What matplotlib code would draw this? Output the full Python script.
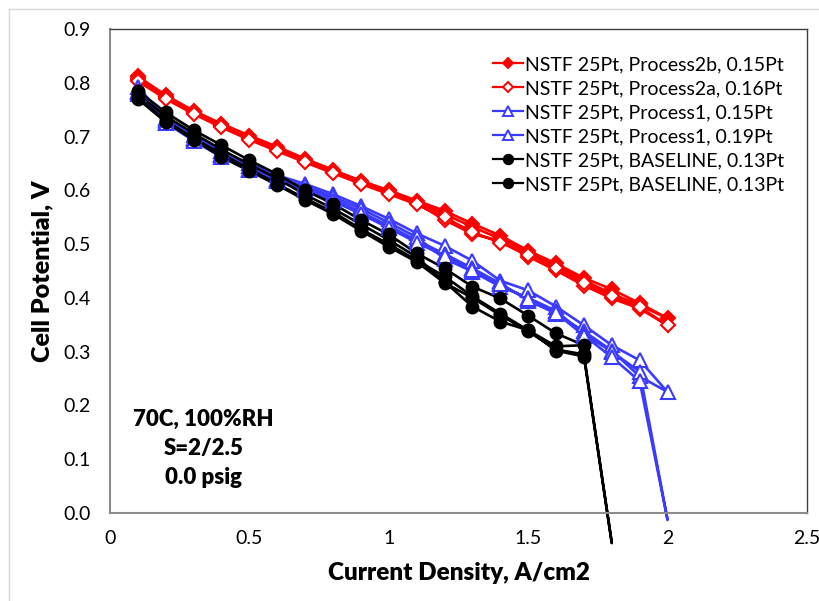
import matplotlib
matplotlib.use("Agg")
import matplotlib.pyplot as plt
from matplotlib.lines import Line2D

plt.rcParams['font.family'] = ['Lato', 'DejaVu Sans']

# ---------------- data ----------------
x_up20 = [0.1, 0.2, 0.3, 0.4, 0.5, 0.6, 0.7, 0.8, 0.9, 1.0,
          1.1, 1.2, 1.3, 1.4, 1.5, 1.6, 1.7, 1.8, 1.9, 2.0]
x_dn19 = [1.9, 1.8, 1.7, 1.6, 1.5, 1.4, 1.3, 1.2, 1.1, 1.0,
          0.9, 0.8, 0.7, 0.6, 0.5, 0.4, 0.3, 0.2, 0.1]
x_up18 = [0.1, 0.2, 0.3, 0.4, 0.5, 0.6, 0.7, 0.8, 0.9, 1.0,
          1.1, 1.2, 1.3, 1.4, 1.5, 1.6, 1.7, 1.8]
x_up17 = [0.1, 0.2, 0.3, 0.4, 0.5, 0.6, 0.7, 0.8, 0.9, 1.0,
          1.1, 1.2, 1.3, 1.4, 1.5, 1.6, 1.7]
x_dn17 = [1.7, 1.6, 1.5, 1.4, 1.3, 1.2, 1.1, 1.0,
          0.9, 0.8, 0.7, 0.6, 0.5, 0.4, 0.3, 0.2, 0.1]
x_dn16 = [1.6, 1.5, 1.4, 1.3, 1.2, 1.1, 1.0,
          0.9, 0.8, 0.7, 0.6, 0.5, 0.4, 0.3, 0.2, 0.1]

# Process2b, 0.15Pt
p2b_up = [0.812, 0.777, 0.748, 0.724, 0.702, 0.681, 0.659, 0.638, 0.618, 0.600,
          0.581, 0.562, 0.538, 0.516, 0.488, 0.464, 0.437, 0.416, 0.390, 0.362]
p2b_dn = [0.386, 0.408, 0.432, 0.460, 0.484, 0.510, 0.532, 0.556, 0.577, 0.596,
          0.615, 0.634, 0.655, 0.677, 0.698, 0.721, 0.746, 0.774, 0.809]
# Process2a, 0.16Pt
p2a_up = [0.806, 0.773, 0.745, 0.720, 0.697, 0.676, 0.655, 0.634, 0.614, 0.597,
          0.576, 0.545, 0.519, 0.506, 0.477, 0.451, 0.423, 0.399, 0.380, 0.349]
p2a_dn = [0.383, 0.404, 0.428, 0.455, 0.480, 0.503, 0.522, 0.550, 0.574, 0.593,
          0.612, 0.632, 0.652, 0.673, 0.694, 0.717, 0.742, 0.770, 0.803]
# Process1, 0.15Pt
p1a_up = [0.792, 0.735, 0.703, 0.673, 0.650, 0.628, 0.612, 0.593, 0.571, 0.547,
          0.520, 0.497, 0.469, 0.432, 0.414, 0.384, 0.349, 0.312, 0.284, 0.225]
p1a_dn = [0.254, 0.302, 0.338, 0.371, 0.395, 0.427, 0.455, 0.482, 0.507, 0.534,
          0.560, 0.584, 0.604, 0.620, 0.640, 0.665, 0.695, 0.728, 0.785]
# Process1, 0.19Pt
p1b_up = [0.782, 0.730, 0.698, 0.668, 0.645, 0.622, 0.608, 0.588, 0.566, 0.540,
          0.513, 0.473, 0.449, 0.421, 0.400, 0.376, 0.333, 0.300, 0.263, -0.013]
p1b_dn = [0.245, 0.290, 0.330, 0.372, 0.398, 0.425, 0.452, 0.478, 0.503, 0.530,
          0.556, 0.580, 0.600, 0.617, 0.638, 0.662, 0.692, 0.726, 0.780]
# BASELINE, 0.13Pt (1)
bla_up = [0.785, 0.745, 0.712, 0.684, 0.656, 0.630, 0.600, 0.575, 0.545, 0.518,
          0.483, 0.455, 0.421, 0.399, 0.367, 0.334, 0.312]
bla_dn = [0.310, 0.340, 0.371, 0.403, 0.440, 0.470, 0.500, 0.528, 0.560, 0.585,
          0.612, 0.640, 0.668, 0.697, 0.730, 0.772]
# BASELINE, 0.13Pt (2)
blb_up = [0.778, 0.738, 0.706, 0.676, 0.648, 0.622, 0.592, 0.566, 0.537, 0.508,
          0.476, 0.430, 0.384, 0.356, 0.340, 0.302, 0.291, -0.056]
blb_dn = [0.295, 0.304, 0.338, 0.368, 0.400, 0.428, 0.467, 0.495, 0.525, 0.556,
          0.582, 0.610, 0.636, 0.662, 0.694, 0.727, 0.770]

labels = ["NSTF 25Pt, Process2b, 0.15Pt",
          "NSTF 25Pt, Process2a, 0.16Pt",
          "NSTF 25Pt, Process1, 0.15Pt",
          "NSTF 25Pt, Process1, 0.19Pt",
          "NSTF 25Pt, BASELINE, 0.13Pt",
          "NSTF 25Pt, BASELINE, 0.13Pt"]

x_ticks = [0, 0.5, 1, 1.5, 2, 2.5]
x_ticklabels = ["0", "0.5", "1", "1.5", "2", "2.5"]
y_ticks = [0.0, 0.1, 0.2, 0.3, 0.4, 0.5, 0.6, 0.7, 0.8, 0.9]
y_ticklabels = ["0.0", "0.1", "0.2", "0.3", "0.4", "0.5", "0.6", "0.7", "0.8", "0.9"]

RED = '#FF0000'
BLUE = '#3B3BFF'
BLACK = '#000000'

series = [
    (x_up20 + x_dn19, p2b_up + p2b_dn, RED, 'D', RED, 7.0),
    (x_up20 + x_dn19, p2a_up + p2a_dn, RED, 'D', 'white', 7.0),
    (x_up20 + x_dn19, p1a_up + p1a_dn, BLUE, '^', 'white', 9.5),
    (x_up20 + x_dn19, p1b_up + p1b_dn, BLUE, '^', 'white', 9.5),
    (x_up17 + x_dn16, bla_up + bla_dn, BLACK, 'o', BLACK, 8.5),
    (x_up18 + x_dn17, blb_up + blb_dn, BLACK, 'o', BLACK, 8.5),
]

fig = plt.figure(figsize=(8.2, 6.01), dpi=100)
ax = fig.add_axes([0.1341, 0.1464, 0.8500, 0.8053])

handles = []
for (xs, ys, col, mk, mfc, ms), lab in zip(series, labels):
    ax.plot(xs, ys, color=col, lw=1.9, clip_on=False, zorder=2)
    xm = [a for a, b in zip(xs, ys) if b >= 0]
    ym = [b for b in ys if b >= 0]
    ax.plot(xm, ym, linestyle='none', marker=mk, markersize=ms,
            markerfacecolor=mfc, markeredgecolor=col, markeredgewidth=1.5,
            zorder=3)
    handles.append(Line2D([], [], color=col, lw=1.6, marker=mk,
                          markersize=ms * 0.8, markerfacecolor=mfc,
                          markeredgecolor=col, markeredgewidth=1.4))

ax.set_xlim(0, 2.5)
ax.set_ylim(0, 0.9)
ax.set_xticks(x_ticks)
ax.set_xticklabels(x_ticklabels)
ax.set_yticks(y_ticks)
ax.set_yticklabels(y_ticklabels)
ax.tick_params(length=0, labelsize=14, colors='black')
ax.tick_params(axis='y', pad=14)
ax.tick_params(axis='x', pad=12)

for side in ['left', 'bottom']:
    ax.spines[side].set_color('#8c8c8c')
    ax.spines[side].set_linewidth(1.5)
for side in ['top', 'right']:
    ax.spines[side].set_color('#404040')
    ax.spines[side].set_linewidth(1.0)

ax.set_xlabel("Current Density, A/cm2", fontsize=17.5, fontweight='heavy', labelpad=11)
ax.set_ylabel("Cell Potential, V", fontsize=18, fontweight='heavy', labelpad=7)

ax.text(0.336, 0.12, "70C, 100%RH\nS=2/2.5\n0.0 psig", fontsize=16,
        fontweight='heavy', ha='center', va='center', linespacing=1.5,
        transform=ax.transData)

leg = ax.legend(handles, labels, loc='upper right',
                bbox_to_anchor=(0.987, 0.972), frameon=False, fontsize=14,
                handlelength=1.55, handletextpad=0.1, labelspacing=0.36,
                borderaxespad=0.3)

# outer chart-area border (top and left visible)
fig.add_artist(Line2D([9 / 820, 1], [1 - 9 / 601, 1 - 9 / 601],
                      transform=fig.transFigure, color='#d9d9d9', lw=1))
fig.add_artist(Line2D([9 / 820, 9 / 820], [0, 1 - 9 / 601],
                      transform=fig.transFigure, color='#d9d9d9', lw=1))

fig.savefig("out.png", dpi=100)
